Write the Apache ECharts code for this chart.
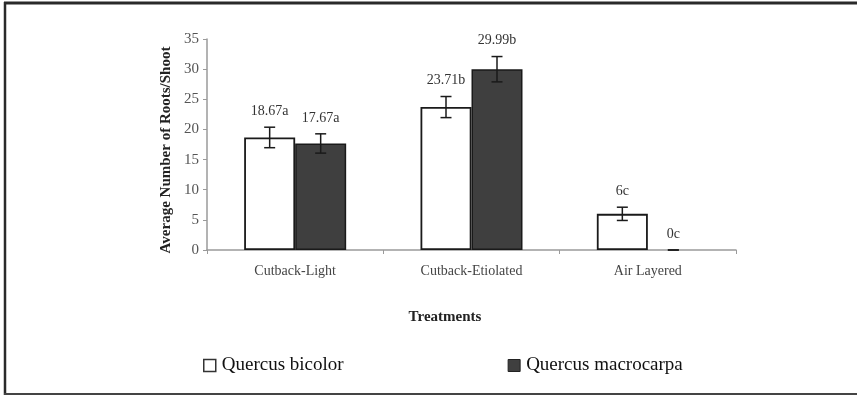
<!DOCTYPE html>
<html>
<head>
<meta charset="utf-8">
<script src="https://cdn.jsdelivr.net/npm/echarts@6/dist/echarts.min.js"></script>
<style>
html,body{margin:0;padding:0;background:#fff;}
#chart{width:857px;height:395px;}
</style>
</head>
<body>
<div id="chart"></div>
<script>
const categories = ['Cutback-Light', 'Cutback-Etiolated', 'Air Layered'];
const seriesNames = ['Quercus bicolor', 'Quercus macrocarpa'];
const bicolorMeans = [18.67, 23.71, 6];
const bicolorErrors = [1.7, 1.75, 1.1];
const bicolorLabels = ['18.67a', '23.71b', '6c'];
const macrocarpaMeans = [17.67, 29.99, 0];
const macrocarpaErrors = [1.6, 2.1, 0];
const macrocarpaLabels = ['17.67a', '29.99b', '0c'];
const yMin = 0, yMax = 35, yInterval = 5;

const FONT = 'Liberation Serif, Times New Roman, serif';
const BAR_W = 51;
const CAP = 11;
const LABEL_OFF = 16;

function barData(values) {
  // zero-height bars show no outline in the reference
  return values.map(v => v === 0 ? { value: v, itemStyle: { borderWidth: 0 } } : v);
}

function errSeries(name, means, errs, labels, dir) {
  return {
    type: 'custom',
    name: name,
    z: 5,
    silent: true,
    data: means.map((m, i) => [i, m, errs[i]]),
    renderItem: function (params, api) {
      const i = api.value(0), m = api.value(1), e = api.value(2);
      const top = api.coord([i, m + e]);
      const bot = api.coord([i, m - e]);
      const x = top[0] + dir * BAR_W / 2;
      const st = { stroke: '#1a1a1a', lineWidth: 1.5 };
      return {
        type: 'group',
        children: [
          { type: 'line', shape: { x1: x, y1: top[1], x2: x, y2: bot[1] }, style: st },
          { type: 'line', shape: { x1: x - CAP / 2, y1: top[1], x2: x + CAP / 2, y2: top[1] }, style: st },
          { type: 'line', shape: { x1: x - CAP / 2, y1: bot[1], x2: x + CAP / 2, y2: bot[1] }, style: st },
          { type: 'text', style: { x: x, y: top[1] - LABEL_OFF, text: labels[params.dataIndex],
              fill: '#333', font: '14px ' + FONT, align: 'center', verticalAlign: 'middle' } }
        ]
      };
    }
  };
}

const chart = echarts.init(document.getElementById('chart'), null, { renderer: 'canvas' });
chart.setOption({
  animation: false,
  backgroundColor: '#fff',
  grid: { left: 207, right: 121, top: 39, bottom: 145, containLabel: false },
  legend: {
    left: 203, top: 356, padding: 0,
    itemWidth: 12, itemHeight: 12, itemGap: 164,
    icon: 'rect',
    textStyle: { fontFamily: FONT, fontSize: 19, color: '#111', padding: [0, 0, 0, 1] },
    data: [
      { name: seriesNames[0], itemStyle: { color: '#fff', borderColor: '#333', borderWidth: 1.5 } },
      { name: seriesNames[1], itemStyle: { color: '#3f3f3f', borderColor: '#222', borderWidth: 1 } }
    ]
  },
  xAxis: {
    type: 'category',
    data: categories,
    axisLine: { lineStyle: { color: '#9a9a9a', width: 1.5 } },
    axisTick: { show: true, length: 4, lineStyle: { color: '#9a9a9a' } },
    axisLabel: { fontFamily: FONT, fontSize: 14, color: '#444', margin: 14 }
  },
  yAxis: {
    type: 'value',
    min: yMin, max: yMax, interval: yInterval,
    splitLine: { show: false },
    axisLine: { show: true, lineStyle: { color: '#9a9a9a', width: 1.5 } },
    axisTick: { show: true, length: 4, lineStyle: { color: '#9a9a9a' } },
    axisLabel: { fontFamily: FONT, fontSize: 15, color: '#555', margin: 8 }
  },
  graphic: [
    { type: 'text', x: 166, y: 150, rotation: Math.PI / 2,
      style: { text: 'Average Number of Roots/Shoot', font: 'bold 15px ' + FONT, fill: '#222',
               align: 'center', verticalAlign: 'middle' } },
    { type: 'text', x: 445, y: 317,
      style: { text: 'Treatments', font: 'bold 15px ' + FONT, fill: '#222',
               align: 'center', verticalAlign: 'middle' } },
    { type: 'line', shape: { x1: 4, y1: 3, x2: 857, y2: 3 }, style: { stroke: '#2a2a2a', lineWidth: 3 } },
    { type: 'line', shape: { x1: 5, y1: 2, x2: 5, y2: 395 }, style: { stroke: '#2a2a2a', lineWidth: 2.5 } },
    { type: 'line', shape: { x1: 4, y1: 394, x2: 857, y2: 394 }, style: { stroke: '#444', lineWidth: 2 } }
  ],
  series: [
    { type: 'bar', name: seriesNames[0], data: barData(bicolorMeans), barWidth: BAR_W, barGap: '0%',
      itemStyle: { color: '#fff', borderColor: '#1a1a1a', borderWidth: 1.8 } },
    { type: 'bar', name: seriesNames[1], data: barData(macrocarpaMeans), barWidth: BAR_W, barGap: '0%',
      itemStyle: { color: '#3f3f3f', borderColor: '#1a1a1a', borderWidth: 1.5 } },
    errSeries('bicolor-err', bicolorMeans, bicolorErrors, bicolorLabels, -1),
    errSeries('macrocarpa-err', macrocarpaMeans, macrocarpaErrors, macrocarpaLabels, 1)
  ]
});
</script>
</body>
</html>
